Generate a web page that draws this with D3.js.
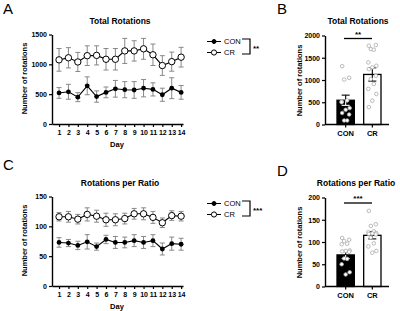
<!DOCTYPE html>
<html>
<head>
<meta charset="utf-8">
<script src="https://cdn.jsdelivr.net/npm/d3@7"></script>
<style>
  body { margin: 0; background: #fff; }
  svg { font-family: "Liberation Sans", Arial, sans-serif; }
</style>
</head>
<body>
<svg id="chart" width="400" height="311"></svg>
<script>
// data
var days = [1,2,3,4,5,6,7,8,9,10,11,12,13,14];
var groups = ["CON", "CR"];

var totCon = [520, 540, 450, 640, 460, 530, 590, 575, 570, 600, 580, 490, 600, 530];
var totConErr = [90, 125, 75, 150, 95, 90, 140, 135, 140, 145, 110, 110, 175, 115];
var totCr = [1075, 1110, 1040, 1145, 1150, 1085, 1085, 1225, 1225, 1260, 1160, 980, 1045, 1120];
var totCrErr = [190, 170, 160, 165, 160, 180, 180, 210, 170, 175, 180, 165, 160, 165];

var ratCon = [73, 72, 68, 74, 66, 78, 73, 73, 76, 73, 76, 62, 71, 70];
var ratConErr = [8, 6, 7, 12, 6, 7, 10, 9, 10, 10, 10, 10, 11, 10];
var ratCr = [116, 116, 112, 120, 117, 111, 111, 113, 121, 121, 115, 106, 118, 117];
var ratCrErr = [7, 9, 8, 11, 10, 11, 10, 9, 9, 10, 10, 8, 8, 8];

var totBarMean = [545, 1125];
var totBarSem = [115, 150];
var totDotsCon = [1310, 1050, 1010, 540, 515, 370, 330, 260, 225, 90, 90, 500];
var totDotsCr = [1770, 1785, 1695, 1680, 1395, 1320, 1285, 1245, 1095, 1020, 910, 800, 685, 535, 390];

var ratBarMean = [71, 115];
var ratBarSem = [8, 8];
var ratDotsCon = [109, 105, 102, 96, 95, 81, 80, 79, 78, 63, 62, 50, 32, 27];
var ratDotsCr = [170, 140, 136, 124, 122, 120, 119, 118, 117, 110, 97, 90, 80, 76];

var svg = d3.select("#chart");

function styleAxis(g) {
  g.selectAll(".domain").attr("stroke", "#000").attr("stroke-width", 1.4);
  g.selectAll(".tick line").attr("stroke", "#000").attr("stroke-width", 1.2);
  g.selectAll(".tick text").attr("font-size", "7px").attr("font-weight", "bold").attr("fill", "#000");
}

function letter(txt, x, y) {
  svg.append("text").attr("x", x).attr("y", y).text(txt)
    .attr("font-size", "15px").attr("fill", "#000");
}

function title(txt, x, y) {
  svg.append("text").attr("x", x).attr("y", y).text(txt)
    .attr("text-anchor", "middle").attr("font-size", "8.5px").attr("font-weight", "bold");
}

function yLabel(x, y) {
  svg.append("text").attr("transform", "translate(" + x + "," + y + ") rotate(-90)")
    .text("Number of rotations").attr("text-anchor", "middle")
    .attr("font-size", "7.5px").attr("font-weight", "bold");
}

// line panel (A, C)
function linePanel(top, yMax, yStep, con, conErr, cr, crErr, stars) {
  var y0 = top + 89.5;
  var x = d3.scaleLinear().domain([0.25, 14.2]).range([52, 183]);
  var y = d3.scaleLinear().domain([0, yMax]).range([y0, top]);

  var line = d3.line().x(function(d, i) { return x(days[i]); }).y(function(d) { return y(d); });

  [[con, conErr], [cr, crErr]].forEach(function(s) {
    var eb = svg.append("g").attr("stroke", "#888").attr("stroke-width", 1);
    days.forEach(function(d, i) {
      var xc = x(d), hi = y(s[0][i] + s[1][i]), lo = y(s[0][i] - s[1][i]);
      eb.append("line").attr("x1", xc).attr("x2", xc).attr("y1", hi).attr("y2", lo);
      eb.append("line").attr("x1", xc - 2.5).attr("x2", xc + 2.5).attr("y1", hi).attr("y2", hi);
      eb.append("line").attr("x1", xc - 2.5).attr("x2", xc + 2.5).attr("y1", lo).attr("y2", lo);
    });
  });

  svg.append("path").datum(con).attr("d", line).attr("fill", "none").attr("stroke", "#000").attr("stroke-width", 1.1);
  svg.append("path").datum(cr).attr("d", line).attr("fill", "none").attr("stroke", "#000").attr("stroke-width", 1.1);

  svg.selectAll(null).data(con).enter().append("circle")
    .attr("cx", function(d, i) { return x(days[i]); }).attr("cy", function(d) { return y(d); })
    .attr("r", 2.4).attr("fill", "#000");
  svg.selectAll(null).data(cr).enter().append("circle")
    .attr("cx", function(d, i) { return x(days[i]); }).attr("cy", function(d) { return y(d); })
    .attr("r", 3.2).attr("fill", "#fff").attr("stroke", "#000").attr("stroke-width", 1);

  var ya = svg.append("g").attr("transform", "translate(52,0)")
    .call(d3.axisLeft(y).tickValues(d3.range(0, yMax + 1, yStep)).tickFormat(d3.format("d"))
      .tickSize(3).tickSizeOuter(0).tickPadding(2));
  styleAxis(ya);

  var xa = svg.append("g").attr("transform", "translate(0," + y0 + ")")
    .call(d3.axisBottom(x).tickValues(days).tickFormat(d3.format("d")).tickSize(3).tickSizeOuter(0).tickPadding(3));
  styleAxis(xa);

  svg.append("text").attr("x", 117).attr("y", y0 + 23).text("Day")
    .attr("text-anchor", "middle").attr("font-size", "7.5px").attr("font-weight", "bold");
  yLabel(27, top + 44);

  // legend with bracket
  var ly = [top + 7, top + 18];
  groups.forEach(function(gname, i) {
    svg.append("line").attr("x1", 207).attr("x2", 221).attr("y1", ly[i]).attr("y2", ly[i])
      .attr("stroke", "#000").attr("stroke-width", 1);
    svg.append("circle").attr("cx", 214).attr("cy", ly[i]).attr("r", i === 0 ? 2 : 2.6)
      .attr("fill", i === 0 ? "#000" : "#fff").attr("stroke", "#000").attr("stroke-width", 1);
    svg.append("text").attr("x", 224).attr("y", ly[i] + 2.5).text(gname)
      .attr("font-size", "7.5px").attr("fill", "#000");
  });
  svg.append("path")
    .attr("d", "M242," + (ly[0] - 2.5) + "H250V" + (ly[1] + 1.5) + "H242")
    .attr("fill", "none").attr("stroke", "#000").attr("stroke-width", 1.2);
  svg.append("text").attr("x", 253).attr("y", (ly[0] + ly[1]) / 2 + 4).text(stars)
    .attr("font-size", "8px").attr("font-weight", "bold");
}

// bar panel (B, D)
function barPanel(top, yMax, yStep, means, sems, dotsCon, dotsCr, stars, sigOff) {
  var y0 = top + 89;
  var x = d3.scaleBand().domain(groups).range([333, 385]).paddingInner(0.35).paddingOuter(0.15);
  var y = d3.scaleLinear().domain([0, yMax]).range([y0, top]);

  svg.selectAll(null).data(groups).enter().append("rect")
    .attr("x", function(d) { return x(d); }).attr("width", x.bandwidth())
    .attr("y", function(d, i) { return y(means[i]); })
    .attr("height", function(d, i) { return y0 - y(means[i]); })
    .attr("fill", function(d, i) { return i === 0 ? "#000" : "#fff"; })
    .attr("stroke", "#000").attr("stroke-width", 1.3);

  // error bars (upward, plus down for CR)
  groups.forEach(function(gname, i) {
    var xc = x(gname) + x.bandwidth() / 2;
    var hi = y(means[i] + sems[i]), lo = y(means[i] - sems[i]);
    var col = i === 0 ? "#fff" : "#000";
    svg.append("line").attr("x1", xc).attr("x2", xc).attr("y1", y(means[i])).attr("y2", lo)
      .attr("stroke", col).attr("stroke-width", 1.1);
    svg.append("line").attr("x1", xc - 4).attr("x2", xc + 4).attr("y1", lo).attr("y2", lo)
      .attr("stroke", col).attr("stroke-width", 1.1);
    svg.append("line").attr("x1", xc).attr("x2", xc).attr("y1", hi).attr("y2", y(means[i]))
      .attr("stroke", "#000").attr("stroke-width", 1.1);
    svg.append("line").attr("x1", xc - 4).attr("x2", xc + 4).attr("y1", hi).attr("y2", hi)
      .attr("stroke", "#000").attr("stroke-width", 1.1);
  });

  // scatter of individual animals, spread a little around the bar centre
  var jitter = [-3.5, 3.5, -1.5, 1.5, -4, 4, 0];
  [dotsCon, dotsCr].forEach(function(vals, gi) {
    var xc = x(groups[gi]) + x.bandwidth() / 2;
    svg.selectAll(null).data(vals).enter().append("circle")
      .attr("cx", function(d, i) { return xc + jitter[i % jitter.length]; })
      .attr("cy", function(d) { return y(d); })
      .attr("r", 1.8).attr("fill", "#fff").attr("stroke", "#aaa").attr("stroke-width", 0.8);
  });

  var ya = svg.append("g").attr("transform", "translate(325,0)")
    .call(d3.axisLeft(y).tickValues(d3.range(0, yMax + 1, yStep)).tickFormat(d3.format("d"))
      .tickSize(3).tickSizeOuter(0).tickPadding(2));
  styleAxis(ya);

  var xa = svg.append("g").attr("transform", "translate(0," + y0 + ")")
    .call(d3.axisBottom(x).tickSize(3).tickSizeOuter(0).tickPadding(3));
  xa.select(".domain").attr("d", "M325,0H389");
  styleAxis(xa);
  xa.selectAll(".tick text").attr("font-size", "7.5px");

  // significance line
  var sy = top + sigOff;
  svg.append("line").attr("x1", 344).attr("x2", 372).attr("y1", sy).attr("y2", sy)
    .attr("stroke", "#000").attr("stroke-width", 1.3);
  svg.append("text").attr("x", 358).attr("y", sy - 2).text(stars)
    .attr("text-anchor", "middle").attr("font-size", "8px").attr("font-weight", "bold");

  yLabel(302, top + 45);
}

letter("A", 3, 14);
title("Total Rotations", 120, 24);
linePanel(34.5, 1500, 500, totCon, totConErr, totCr, totCrErr, "**");

letter("B", 277, 14);
title("Total Rotations", 358, 24);
barPanel(35.5, 2000, 500, totBarMean, totBarSem, totDotsCon, totDotsCr, "**", 3);

letter("C", 3, 170);
title("Rotations per Ratio", 120, 186);
linePanel(196.5, 150, 50, ratCon, ratConErr, ratCr, ratCrErr, "***");

letter("D", 277, 176);
title("Rotations per Ratio", 356, 186);
barPanel(197.5, 200, 50, ratBarMean, ratBarSem, ratDotsCon, ratDotsCr, "***", 5.5);
</script>
</body>
</html>
